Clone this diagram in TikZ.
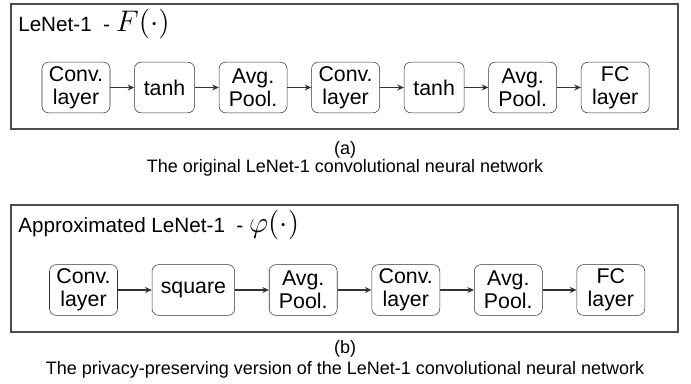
\documentclass[tikz,border=0pt]{standalone}
\usepackage{amsmath}
\usepackage{fontspec}
\setmainfont{Liberation Sans}
\usetikzlibrary{positioning,arrows.meta}

\newcommand{\bigmath}[1]{\scalebox{1.55}{$#1$}}

\tikzset{
  layer/.style={draw=black!80, rounded corners=5pt, align=center,
    minimum width=51pt, minimum height=38pt, inner sep=1pt,
    font=\fontsize{16}{17}\selectfont},
  frame/.style={draw=black!70, line width=1.1pt},
  flow/.style={-{Stealth[length=5pt,width=4.5pt]}, draw=black!80, line width=0.8pt},
  caption/.style={font=\fontsize{13.5}{16}\selectfont, inner sep=0pt, anchor=base},
  title/.style={font=\fontsize{15.5}{17}\selectfont, inner sep=0pt, anchor=base west},
}

\begin{document}
\begin{tikzpicture}[x=0.75pt, y=-0.75pt]
\useasboundingbox (0,0) rectangle (691,384);

% original network
\draw[frame] (11,4) rectangle (678,129);
\node[title] (titleA) at (18,32) {LeNet-1\ \ - \bigmath{F(\cdot)}};

\node[layer] (convA1) at (76,87.5) {Conv.\\layer};
\node[layer, minimum width=45pt, right=18pt of convA1] (tanhA1) {tanh};
\node[layer, right=18pt of tanhA1] (poolA1) {Avg.\\Pool.};
\node[layer, right=18pt of poolA1] (convA2) {Conv.\\layer};
\node[layer, minimum width=45pt, right=18pt of convA2] (tanhA2) {tanh};
\node[layer, right=18pt of tanhA2] (poolA2) {Avg.\\Pool.};
\node[layer, right=18pt of poolA2] (fcA) {FC\\layer};

\foreach \a/\b in {convA1/tanhA1, tanhA1/poolA1, poolA1/convA2, convA2/tanhA2, tanhA2/poolA2, poolA2/fcA}
  \draw[flow] (\a) -- (\b);

\node[caption] (capA) at (345,155) {(a)};
\node[caption] (descA) at (345,173) {The original LeNet-1 convolutional neural network};

% approximated network
\draw[frame] (11,205) rectangle (678,332);
\node[title] (titleB) at (18,233) {Approximated LeNet-1\ \ - \bigmath{\varphi(\cdot)}};

\node[layer] (convB1) at (83.5,290) {Conv.\\layer};
\node[layer, minimum width=62pt, right=25.5pt of convB1] (sqB) {square};
\node[layer, right=25.5pt of sqB] (poolB1) {Avg.\\Pool.};
\node[layer, right=25.5pt of poolB1] (convB2) {Conv.\\layer};
\node[layer, right=25.5pt of convB2] (poolB2) {Avg.\\Pool.};
\node[layer, right=25.5pt of poolB2] (fcB) {FC\\layer};

\foreach \a/\b in {convB1/sqB, sqB/poolB1, poolB1/convB2, convB2/poolB2, poolB2/fcB}
  \draw[flow] (\a) -- (\b);

\node[caption] (capB) at (345,353) {(b)};
\node[caption] (descB) at (345,374) {The privacy-preserving version of the LeNet-1 convolutional neural network};
\end{tikzpicture}
\end{document}
